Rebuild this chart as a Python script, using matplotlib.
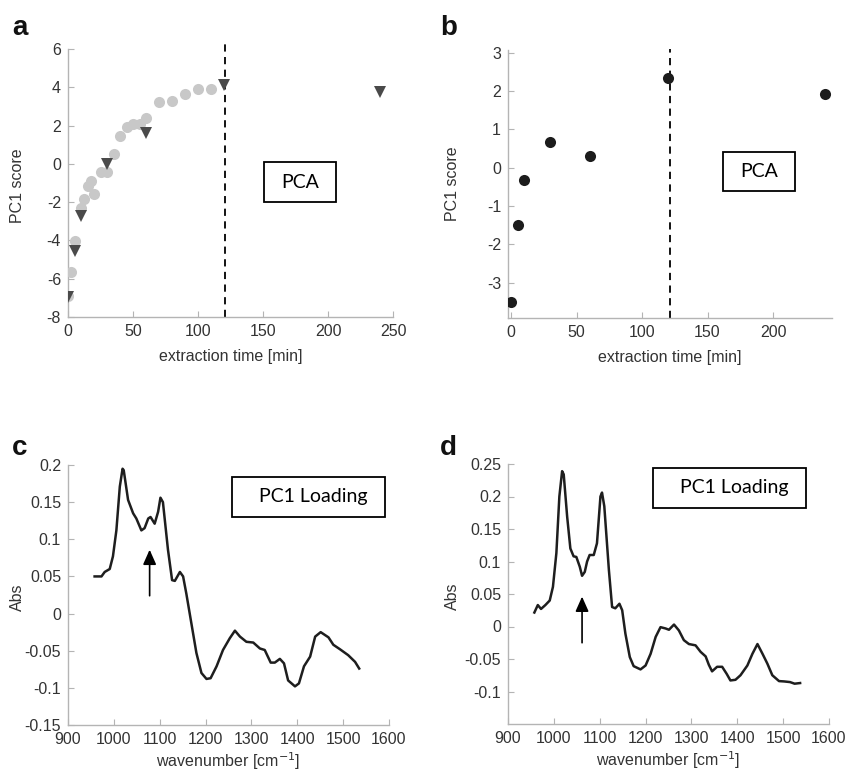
import matplotlib
matplotlib.use('Agg')
import matplotlib.pyplot as plt
import matplotlib.patches as mplpatches

plt.rcParams['font.family'] = ['Liberation Sans', 'DejaVu Sans']
plt.rcParams['axes.unicode_minus'] = False

# ---- data ----
# panel a: PCA scores, all time points (grey) and the sampled ones (triangles)
aTimeAll = [0, 2, 5, 10, 12.5, 15, 17.5, 20, 25, 30, 35, 40, 45, 50, 55, 60, 70, 80, 90, 100, 110]
aScoreAll = [-6.9, -5.67, -4.02, -2.31, -1.84, -1.18, -0.92, -1.58, -0.4, -0.4, 0.52, 1.46, 1.91,
             2.09, 2.09, 2.4, 3.22, 3.29, 3.67, 3.9, 3.9]
aTimeSel = [0, 5, 10, 30, 60, 120, 240]
aScoreSel = [-6.96, -4.57, -2.7, -0.02, 1.6, 4.12, 3.77]

# panel b
bTime = [0, 5, 10, 30, 60, 120, 240]
bScore = [-3.5, -1.5, -0.33, 0.67, 0.3, 2.33, 1.92]

# panel c: PC1 loading
cWave = [958, 973, 980, 991, 998, 1005.5, 1013, 1019, 1021.5, 1031, 1042, 1049, 1060, 1067, 1075,
         1080, 1089, 1096.5, 1101.6, 1107, 1118, 1127, 1133, 1144, 1151, 1158, 1169, 1180, 1191,
         1202, 1211, 1224, 1238, 1253, 1264, 1275, 1289, 1304, 1318.5, 1329, 1342, 1351, 1362,
         1371, 1380, 1395, 1403.6, 1414.6, 1428, 1439, 1451, 1468, 1478.6, 1493, 1511, 1526, 1535]
cAbs = [0.05, 0.05, 0.056, 0.06, 0.077, 0.112, 0.171, 0.195, 0.193, 0.153, 0.135, 0.128, 0.112,
        0.115, 0.128, 0.13, 0.121, 0.137, 0.156, 0.15, 0.086, 0.045, 0.044, 0.056, 0.05, 0.027,
        -0.013, -0.053, -0.08, -0.088, -0.087, -0.071, -0.049, -0.033, -0.023, -0.031, -0.038,
        -0.039, -0.047, -0.049, -0.066, -0.066, -0.061, -0.067, -0.09, -0.098, -0.094, -0.071,
        -0.058, -0.031, -0.025, -0.032, -0.042, -0.048, -0.056, -0.065, -0.074]

# panel d: PC1 loading
dWave = [957.5, 965, 972, 981.5, 991, 998, 1005.5, 1012, 1018, 1021.5, 1029, 1036, 1043, 1049,
         1056.5, 1061.5, 1067.4, 1072.5, 1078, 1087, 1094, 1101.6, 1105, 1110, 1120, 1127, 1134,
         1143, 1149, 1156, 1165.6, 1174, 1189, 1200, 1211, 1222, 1232.6, 1243.5, 1251, 1262,
         1272.6, 1283.5, 1294.5, 1309, 1320, 1331, 1338, 1345, 1356, 1367, 1377, 1385, 1396,
         1407, 1422, 1433, 1444, 1455, 1465.5, 1476.4, 1491, 1502, 1515, 1525, 1537]
dAbs = [0.0215, 0.033, 0.027, 0.033, 0.04, 0.061, 0.113, 0.2, 0.239, 0.234, 0.169, 0.12, 0.108,
        0.107, 0.092, 0.078, 0.084, 0.1, 0.11, 0.11, 0.128, 0.2, 0.206, 0.185, 0.087, 0.03, 0.028,
        0.035, 0.025, -0.011, -0.047, -0.061, -0.066, -0.06, -0.042, -0.016, -0.001, -0.003,
        -0.005, 0.003, -0.006, -0.021, -0.027, -0.029, -0.039, -0.046, -0.059, -0.069, -0.062,
        -0.062, -0.073, -0.083, -0.082, -0.075, -0.06, -0.042, -0.027, -0.042, -0.057, -0.075,
        -0.084, -0.0845, -0.0855, -0.088, -0.087]

cutoffTime = 121
arrowC = (1078, 0.024, 0.086)
arrowD = (1061.5, -0.025, 0.046)

# ---- figure ----
W, H = 847, 771
fig = plt.figure(figsize=(W / 100, H / 100), dpi=100)

def px_axes(left, top, right, bottom):
    return fig.add_axes([left / W, 1 - bottom / H, (right - left) / W, (bottom - top) / H])

spineGrey = '#b4b4b4'
textGrey = '#333333'
tickSize = 11.5
labelSize = 11.5

def style(ax):
    for s in ['top', 'right']:
        ax.spines[s].set_visible(False)
    for s in ['left', 'bottom']:
        ax.spines[s].set_color(spineGrey)
        ax.spines[s].set_linewidth(1.0)
    ax.tick_params(direction='in', length=4, width=0.8, color=spineGrey,
                   labelsize=tickSize, labelcolor=textGrey, pad=5)

def fmt(v):
    return '%g' % round(v, 3)

def add_box(ax, x0, y0, x1, y1, label, dx=0.0):
    ax.add_patch(mplpatches.Rectangle((x0, y0), x1 - x0, y1 - y0, transform=ax.transAxes,
                                      facecolor='white', edgecolor='black', linewidth=1.3,
                                      zorder=5, clip_on=False))
    ax.text((x0 + x1) / 2 + dx, (y0 + y1) / 2, label, transform=ax.transAxes,
            ha='center', va='center', fontsize=14, family=['Lato', 'DejaVu Sans'],
            color='black', zorder=6)

# panel a
axA = px_axes(68, 49, 393, 317)
style(axA)
axA.plot([cutoffTime, cutoffTime], [-8, 6.3], color='black', linestyle=(0, (4, 3)),
         linewidth=1.3, clip_on=False, zorder=2)
axA.plot(aTimeAll, aScoreAll, 'o', color='#c8c8c8', markersize=8, markeredgewidth=0, zorder=3)
axA.plot(aTimeSel, aScoreSel, 'v', color='#4a4a4a', markersize=8.5, markeredgewidth=0, zorder=4)
axA.set_xlim(0, 250)
axA.set_ylim(-8, 6)
axA.set_xticks(range(0, 251, 50))
axA.set_yticks(range(-8, 7, 2))
axA.set_xlabel('extraction time [min]', fontsize=labelSize, color=textGrey, labelpad=7)
axA.set_ylabel('PC1 score', fontsize=labelSize, color=textGrey)
axA.yaxis.set_label_coords(-0.132, 0.49)
add_box(axA, 0.603, 0.429, 0.825, 0.578, 'PCA')

# panel b
axB = px_axes(508, 50, 832, 318)
style(axB)
axB.plot([cutoffTime, cutoffTime], [-3.92, 3.1], color='black', linestyle=(0, (4, 3)),
         linewidth=1.3, clip_on=False, zorder=2)
axB.plot(bTime, bScore, 'o', color='#1c1c1c', markersize=8, markeredgewidth=0, zorder=3)
axB.set_xlim(-2.3, 245)
axB.set_ylim(-3.92, 3.07)
axB.set_xticks(range(0, 201, 50))
axB.set_yticks(range(-3, 4))
axB.set_xlabel('extraction time [min]', fontsize=labelSize, color=textGrey, labelpad=7)
axB.set_ylabel('PC1 score', fontsize=labelSize, color=textGrey)
axB.yaxis.set_label_coords(-0.148, 0.5)
add_box(axB, 0.664, 0.474, 0.886, 0.619, 'PCA')

# panel c
axC = px_axes(68, 465, 389, 725)
style(axC)
axC.plot(cWave, cAbs, color='#1e1e1e', linewidth=1.8)
axC.annotate('', xy=(arrowC[0], arrowC[2]), xytext=(arrowC[0], arrowC[1]),
             arrowprops=dict(arrowstyle='-|>,head_length=0.9,head_width=0.4',
                             color='black', linewidth=1.2, shrinkA=0, shrinkB=0))
axC.set_xlim(900, 1600)
axC.set_ylim(-0.15, 0.2)
axC.set_xticks(range(900, 1601, 100))
cTicks = [-0.15, -0.1, -0.05, 0, 0.05, 0.1, 0.15, 0.2]
axC.set_yticks(cTicks)
axC.set_yticklabels([fmt(v) for v in cTicks])
axC.set_xlabel('wavenumber [cm$^{-1}$]', fontsize=labelSize, color=textGrey, labelpad=2.5)
axC.set_ylabel('Abs', fontsize=labelSize, color=textGrey)
axC.yaxis.set_label_coords(-0.134, 0.49)
add_box(axC, 0.511, 0.80, 0.988, 0.954, 'PC1 Loading', dx=0.015)

# panel d
axD = px_axes(508, 464, 829, 724)
style(axD)
axD.plot(dWave, dAbs, color='#1e1e1e', linewidth=1.8)
axD.annotate('', xy=(arrowD[0], arrowD[2]), xytext=(arrowD[0], arrowD[1]),
             arrowprops=dict(arrowstyle='-|>,head_length=0.9,head_width=0.4',
                             color='black', linewidth=1.2, shrinkA=0, shrinkB=0))
axD.set_xlim(900, 1600)
axD.set_ylim(-0.15, 0.25)
axD.set_xticks(range(900, 1601, 100))
dTicks = [-0.1, -0.05, 0, 0.05, 0.1, 0.15, 0.2, 0.25]
axD.set_yticks(dTicks)
axD.set_yticklabels([fmt(v) for v in dTicks])
axD.set_xlabel('wavenumber [cm$^{-1}$]', fontsize=labelSize, color=textGrey, labelpad=2.5)
axD.set_ylabel('Abs', fontsize=labelSize, color=textGrey)
axD.yaxis.set_label_coords(-0.15, 0.49)
add_box(axD, 0.452, 0.831, 0.928, 0.985, 'PC1 Loading', dx=0.015)

# panel letters
for letter, x, y in [('a', 12, 35), ('b', 440, 35), ('c', 12, 455), ('d', 440, 455)]:
    fig.text(x / W, 1 - y / H, letter, fontsize=20, fontweight='bold', ha='left',
             va='baseline', color='#111111')

plt.savefig('out.png', dpi=100)
